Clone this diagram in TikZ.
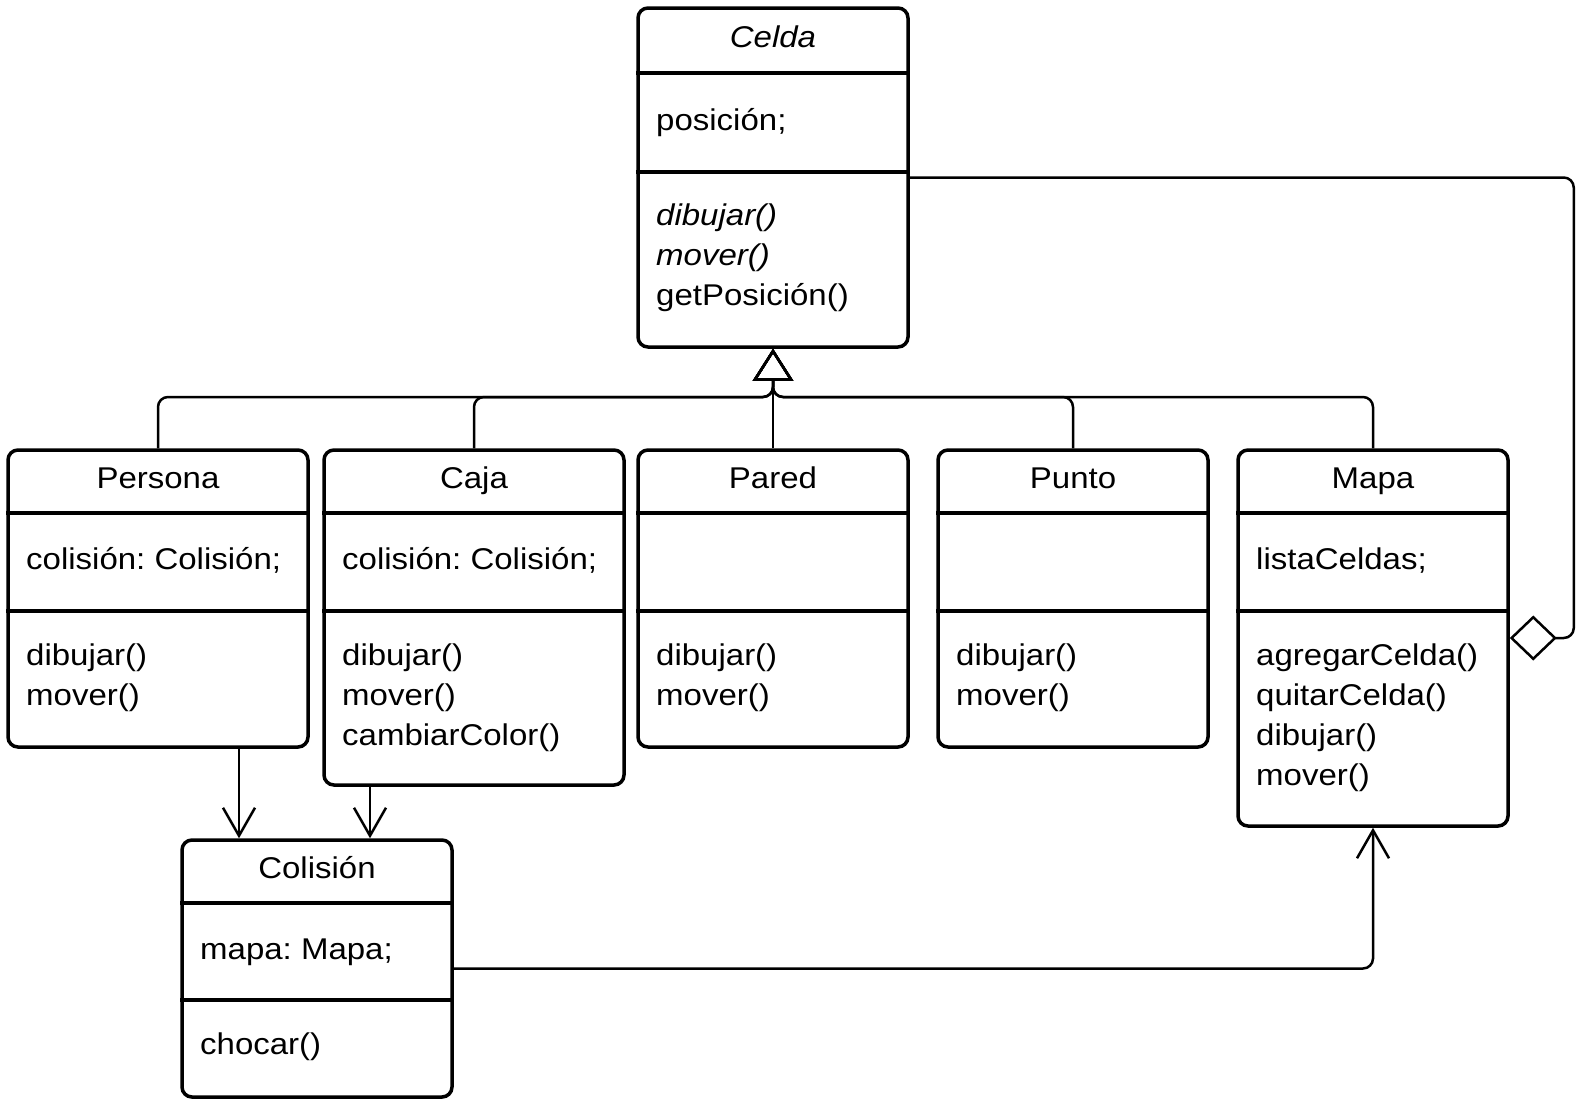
\documentclass[tikz,border=0pt]{standalone}
\usepackage{fontspec}
\setmainfont{Liberation Sans}[FakeStretch=1.1]
\usetikzlibrary{arrows.meta}

\newcommand\umlfont{\fontsize{30}{40.3}\selectfont\frenchspacing}

\tikzset{
  classframe/.style={draw, line width=3.5pt, rounded corners=10pt, inner sep=0pt},
  divider/.style={line width=3.5pt},
  link/.style={line width=2.5pt, rounded corners=10pt},
  hdr/.style={inner sep=0pt, anchor=base, font=\umlfont},
  txt/.style={inner sep=0pt, anchor=base west, font=\umlfont},
  inherit/.style={link, -{Triangle[open, length=32pt, width=40pt, line width=2.5pt]}},
  assoc/.style={link, -{Straight Barb[length=28pt, width=32pt, line width=2.5pt]}},
  aggr/.style={link, {Diamond[open, length=47pt, width=45pt, line width=2.5pt]}-},
}

% class frame: name, x1, y1, x2, y2, first divider, second divider
\newcommand\classbox[7]{%
  \node[classframe, minimum width={#4-#2}, minimum height={#5-#3}] (#1)
    at ({(#2+#4)/2},{(#3+#5)/2}) {};
  \draw[divider] (#1.west |- 0,#6) -- (#1.east |- 0,#6);
  \draw[divider] (#1.west |- 0,#7) -- (#1.east |- 0,#7);
}

% list of lines whose first baseline is the node's base
\newcommand\lines[1]{\begin{tabular}[t]{@{}l@{}}#1\end{tabular}}

\begin{document}
\begin{tikzpicture}[x=1pt, y=-1pt]
\useasboundingbox (0,0) rectangle (1578,1104);

% classes
\classbox{celda}{638}{8}{908}{347}{73}{172}
\classbox{persona}{8}{450}{308}{747}{513}{611}
\classbox{caja}{324}{450}{624}{785}{513}{611}
\classbox{pared}{638}{450}{908}{747}{513}{611}
\classbox{punto}{938}{450}{1208}{747}{513}{611}
\classbox{mapa}{1238}{450}{1508}{826}{513}{611}
\classbox{colision}{182}{840}{452}{1097}{903}{1000}

% Celda
\node[hdr] (celda-name) at (773,47) {\itshape Celda};
\node[txt] (celda-attr) at (656,130) {posición;};
\node[txt] (celda-ops) at (656,225) {\lines{\itshape dibujar()\\ \itshape mover()\\ getPosición()}};

% Persona
\node[hdr] (persona-name) at (158,488) {Persona};
\node[txt] (persona-attr) at (26,569) {colisión: Colisión;};
\node[txt] (persona-ops) at (26,665) {\lines{dibujar()\\ mover()}};

% Caja
\node[hdr] (caja-name) at (474,488) {Caja};
\node[txt] (caja-attr) at (342,569) {colisión: Colisión;};
\node[txt] (caja-ops) at (342,665) {\lines{dibujar()\\ mover()\\ cambiarColor()}};

% Pared
\node[hdr] (pared-name) at (773,488) {Pared};
\node[txt] (pared-ops) at (656,665) {\lines{dibujar()\\ mover()}};

% Punto
\node[hdr] (punto-name) at (1073,488) {Punto};
\node[txt] (punto-ops) at (956,665) {\lines{dibujar()\\ mover()}};

% Mapa
\node[hdr] (mapa-name) at (1373,488) {Mapa};
\node[txt] (mapa-attr) at (1256,569) {listaCeldas;};
\node[txt] (mapa-ops) at (1256,665) {\lines{agregarCelda()\\ quitarCelda()\\ dibujar()\\ mover()}};

% Colisión
\node[hdr] (colision-name) at (317,878) {Colisión};
\node[txt] (colision-attr) at (200,959) {mapa: Mapa;};
\node[txt] (colision-ops) at (200,1054) {\lines{chocar()}};

% generalization towards Celda
\coordinate (hub) at (773,397);
\draw[inherit] (persona.north) |- (hub) -- (celda.south);
\draw[inherit] (caja.north) |- (hub) -- (celda.south);
\draw[inherit] (pared.north) -- (celda.south);
\draw[inherit] (punto.north) |- (hub) -- (celda.south);
\draw[inherit] (mapa.north) |- (hub) -- (celda.south);

% aggregation Mapa <>-- Celda
\draw[aggr] (mapa.east) -- ++(64,0) |- (celda.east);

% associations
\coordinate (pc) at ([xshift=81pt]persona.south);
\coordinate (cc) at ([xshift=-104pt]caja.south);
\draw[assoc] (pc) -- (pc |- colision.north);
\draw[assoc] (cc) -- (cc |- colision.north);
\draw[assoc] (colision.east) -| (mapa.south);
\end{tikzpicture}
\end{document}
